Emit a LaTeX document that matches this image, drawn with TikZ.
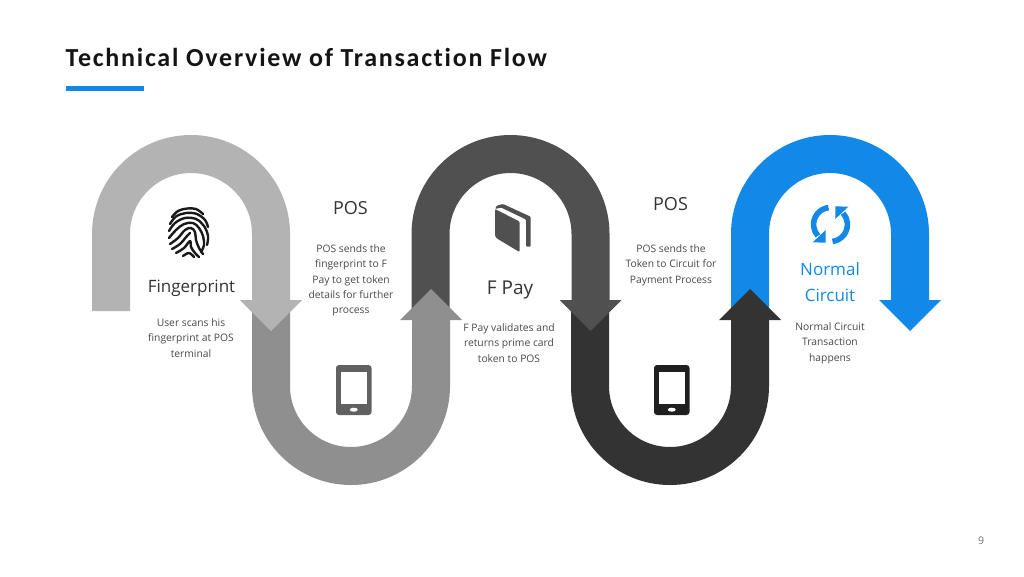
\documentclass[tikz,border=0pt]{standalone}
\usepackage{fontspec}
\setmainfont{Open Sans}
\newfontfamily\titlefont[LetterSpace=6.7,Ligatures=NoCommon]{Carlito}
\definecolor{cLight}{HTML}{B3B3B3}
\definecolor{cGray}{HTML}{8F8F8F}
\definecolor{cDark}{HTML}{505050}
\definecolor{cBlack}{HTML}{333333}
\definecolor{cBlue}{HTML}{1289E6}
\definecolor{cBody}{HTML}{484848}
\tikzset{
  band/.style={line width=38pt},
  desc/.style={font=\fontsize{10.3}{15.4}\selectfont,text=cBody,align=center,inner sep=0pt,anchor=center},
  head/.style={font=\fontsize{17}{26}\selectfont,text=cBlack,align=center,inner sep=0pt,anchor=center},
  ridge/.style={draw=black!90,line width=2.4pt,line cap=round,line join=round,smooth,tension=0.6},
}
\newcommand{\downarrowU}[2]{% #1 centre x, #2 colour
  \fill[#2] (#1+49,300) -- (#1+111,300) -- (#1+80,331) -- cycle;
  \draw[band,#2] (#1-80,311) -- (#1-80,234) arc[start angle=180,end angle=360,radius=80] -- (#1+80,301);
}
\newcommand{\upwardU}[2]{%
  \fill[#2] (#1+49,320) -- (#1+111,320) -- (#1+80,289) -- cycle;
  \draw[band,#2] (#1-80,300) -- (#1-80,386) arc[start angle=180,end angle=0,radius=80] -- (#1+80,319);
}
\newcommand{\phoneicon}[2]{% #1 left x, #2 colour
  \fill[#2,rounded corners=3pt] (#1,365) rectangle (#1+35.5,415);
  \fill[white] (#1+4.5,372) rectangle (#1+31,404);
  \fill[white] (#1+17.75,409.7) ellipse[x radius=4,y radius=2];
}
\begin{document}
\begin{tikzpicture}[x=1pt,y=-1pt]
\useasboundingbox (0,0) rectangle (1024,576);
\fill[white] (0,0) rectangle (1024,576);
% title
\node[anchor=base west,inner sep=0pt,font=\titlefont\bfseries\fontsize{26}{30}\selectfont,text=black!92] (title) at (65.5,66.5) {Technical Overview of Transaction Flow};
\fill[cBlue] (66,86) rectangle (144,91);
% bands, back to front
\fill[cBlue] (879,300) -- (941,300) -- (910,331) -- cycle;
\draw[band,cBlue] (750,311) -- (750,234) arc[start angle=180,end angle=360,radius=80] -- (910,301);
\upwardU{670}{cBlack}
\downarrowU{510.5}{cDark}
\upwardU{351}{cGray}
\downarrowU{191}{cLight}
% fingerprint
\draw[ridge] plot coordinates {(172,217) (178,211) (187,208.5) (196,209) (203,214)};
\draw[ridge] plot coordinates {(170,224) (176,216.5) (186,213) (197,214) (205,220) (208,227)};
\draw[ridge] plot coordinates {(169,231) (175,223) (185,218) (196,219) (204,226) (208,236) (207,245)};
\draw[ridge] plot coordinates {(169,238) (176,230) (184,224) (193,223) (199,228) (203,236) (204,245) (201,252)};
\draw[ridge] plot coordinates {(170,244) (178,238) (185,230) (191,228) (195,232) (196,240) (199,248) (203,254)};
\draw[ridge] plot coordinates {(172,249) (180,244) (187,236) (190,233)};
\draw[ridge] plot coordinates {(176,253) (184,248) (190,241) (191,247) (195,253) (199,257)};
\draw[ridge] plot coordinates {(183,256) (189,253) (194,257)};
% phones
\phoneicon{336}{cDark!90!white}
\phoneicon{654}{black!88}
% book
\fill[cDark,rounded corners=1pt] (495,209) -- (519.5,221.5) -- (519.5,252) -- (497,238.5) -- (495,236) -- cycle;
\fill[cDark,rounded corners=1pt] (495,209) -- (497,205.5) -- (503,204) -- (530.7,216.7) -- (530.7,246.7) -- (526,246.7) -- (526,219.5) -- (501,207.5) -- cycle;
% refresh
\draw[cBlue,line width=5.6pt] (828.5,207.6) arc[start angle=263,end angle=138,radius=17];
\fill[cBlue] (812.7,242.3) -- (825.7,242.7) -- (825.7,230) -- cycle;
\draw[cBlue,line width=5.6pt] (832.5,241.4) arc[start angle=83,end angle=-42,radius=17];
\fill[cBlue] (848.3,206.7) -- (835.3,206.3) -- (835.3,219) -- cycle;
% labels
\node[head] (n1) at (191.5,288.5) {Fingerprint};
\node[head,font=\fontsize{18}{26}\selectfont] (n2) at (350.5,208) {POS};
\node[head,font=\fontsize{19}{26}\selectfont] (n3) at (510,290) {F Pay};
\node[head,font=\fontsize{18}{26}\selectfont] (n4) at (670.5,204) {POS};
\node[head,text=cBlue,anchor=center] (n5) at (830,282) {Normal\\Circuit};
\node[desc] (d1) at (191,338) {User scans his\\fingerprint at POS\\terminal};
\node[desc] (d2) at (351,280.5) {POS sends the\\fingerprint to F\\Pay to get token\\details for further\\process};
\node[desc] (d3) at (509,343) {F Pay validates and\\returns prime card\\token to POS};
\node[desc] (d4) at (671,265) {POS sends the\\Token to Circuit for\\Payment Process};
\node[desc] (d5) at (830,343) {Normal Circuit\\Transaction\\happens};
\node[inner sep=0pt,text=black!55,font=\fontsize{10.5}{12}\selectfont] (pg) at (981,541) {9};
\end{tikzpicture}
\end{document}
